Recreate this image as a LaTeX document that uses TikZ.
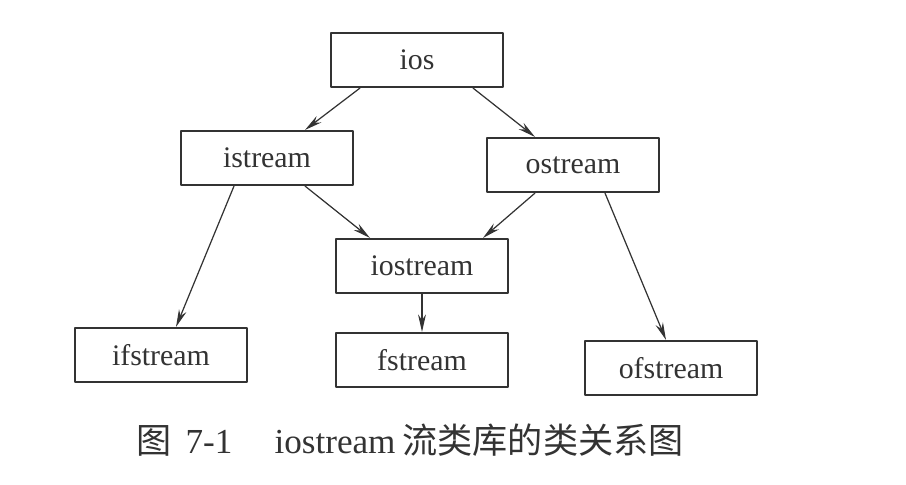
\documentclass[tikz,border=0pt]{standalone}
\usepackage{fontspec}
\setmainfont{Liberation Serif}
\newfontfamily\cjk{Noto Sans CJK SC}
\usetikzlibrary{arrows.meta}
\begin{document}
\begin{tikzpicture}[x=0.02cm,y=0.02cm,line join=round,line cap=round,
		classbox/.style={draw=black!80,line width=1.2pt,minimum width=3.44cm,minimum height=1.08cm,inner sep=0pt,text=black!80,font=\fontsize{17}{20}\selectfont},
		link/.style={draw=black!80,line width=.7pt,-{Stealth[length=10pt,width=4.5pt]}}]
				\useasboundingbox (0,0) rectangle (906,-484);
				\node[classbox] (ios) at (417,-60) {ios};
				\node[classbox] (istream) at (267,-158) {istream};
				\node[classbox] (ostream) at (573,-165) {ostream};
				\node[classbox] (iostream) at (422,-266) {iostream};
				\node[classbox] (ifstream) at (161,-355) {ifstream};
				\node[classbox] (fstream) at (422,-360) {fstream};
				\node[classbox] (ofstream) at (671,-368) {ofstream};
				\draw[link] ([xshift=-1.14cm]ios.south)--([xshift=.76cm]istream.north);
				\draw[link] ([xshift=1.12cm]ios.south)--([xshift=-.76cm]ostream.north);
				\draw[link] ([xshift=.76cm]istream.south)--([xshift=-1.04cm]iostream.north);
				\draw[link] ([xshift=-.76cm]ostream.south)--([xshift=1.22cm]iostream.north);
				\draw[link] ([xshift=-.66cm]istream.south)--([xshift=.3cm]ifstream.north);
				\draw[link] (iostream.south)--(fstream.north);
				\draw[link] ([xshift=.64cm]ostream.south)--([xshift=-.1cm]ofstream.north);
				\node[text=black!80,font=\fontsize{20}{24}\selectfont] (caption) at (410,-440) {{\cjk 图}\hspace{.4em}7-1\hspace{1.2em}iostream\hspace{.2em}{\cjk 流类库的类关系图}};
			\end{tikzpicture}
\end{document}
